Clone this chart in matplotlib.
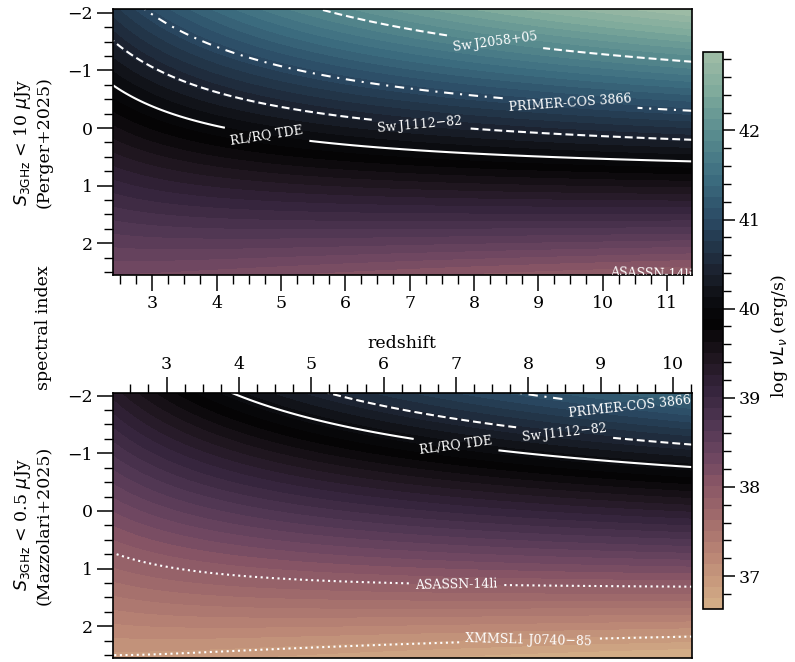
import numpy as np
import matplotlib
matplotlib.use("Agg")
import matplotlib.pyplot as plt
from matplotlib.colors import LinearSegmentedColormap, Normalize
from matplotlib.ticker import MultipleLocator

plt.rcParams['font.family'] = ['DejaVu Serif']
plt.rcParams['mathtext.fontset'] = 'dejavusans'

# ---------------- data ----------------
flux_limits_uJy = [10.0, 0.5]                   # 3 GHz flux limits of the two surveys
panel_refs = ["Perger+2025", "Mazzolari+2025"]
flux_limit_text = ["10", "0.5"]
obs_freq_GHz = 3.0
z_ranges = [(2.39, 11.39), (2.26, 10.26)]       # redshift ranges of the panels
alpha_ranges = [(-2.06, 2.55), (-2.05, 2.55)]   # spectral index ranges
cbar_range = (36.63, 42.88)                     # log nuL_nu colour range
n_bands = 50

source_names = ["Sw\u2009J2058+05", "PRIMER-COS 3866", "Sw\u2009J1112\u221282",
                "RL/RQ TDE", "ASASSN-14li", "XMMSL1 J0740\u221285"]
# log nuL_nu of each source contour
source_logL_top = [41.88, 40.95, 40.40, 39.99, 37.88, 36.97]
source_logL_bottom = [41.88, 41.04, 40.47, 40.06, 37.88, 36.97]

# cosmology (flat LCDM)
H0 = 70.0
Om = 0.3

# ---------------- style ----------------
source_styles = [(0, (3.8, 1.9)), (0, (4.5, 3.2, 1.0, 3.2)), (0, (3.8, 1.9)),
                 'solid', (0, (1.0, 1.7)), (0, (1.0, 1.7))]
label_positions = [
    {"Sw\u2009J2058+05": (8.3, -1.25), "PRIMER-COS 3866": (9.5, -0.5),
     "Sw\u2009J1112\u221282": (7.17, -0.15), "RL/RQ TDE": (4.78, 0.15),
     "ASASSN-14li": (10.75, 2.5)},
    {"PRIMER-COS 3866": (9.4, -1.85), "Sw\u2009J1112\u221282": (8.5, -1.4),
     "RL/RQ TDE": (7.0, -1.15), "ASASSN-14li": (7.0, 1.22),
     "XMMSL1 J0740\u221285": (8.0, 2.22)},
]

anchor_vals = [36.63, 36.9, 37.25, 37.62, 38.0, 38.37, 38.75, 39.1, 39.4, 39.8,
               40.0, 40.25, 40.45, 41.0, 41.5, 42.0, 42.45, 42.88]
anchor_cols = ['#d4af88', '#c99c7e', '#b98474', '#a26d6c', '#8a5766', '#6b4560',
               '#4c3450', '#33233a', '#231923', '#050405', '#08090b', '#14171e',
               '#1c2331', '#2a4a64', '#3d6e80', '#5b8e90', '#7faa9c', '#a0bda6']
vmin, vmax = cbar_range
cmap = LinearSegmentedColormap.from_list(
    "tde", [((v - vmin) / (vmax - vmin), c) for v, c in zip(anchor_vals, anchor_cols)])
norm = Normalize(vmin, vmax)
levels = np.linspace(vmin, vmax, n_bands + 1)

# ---------------- physics ----------------
c_kms = 299792.458
MPC_CM = 3.0857e24


def lum_dist_cm(z):
    zz = np.linspace(0, z.max(), 20001)
    inv_e = 1.0 / np.sqrt(Om * (1 + zz) ** 3 + (1 - Om))
    dc = np.concatenate([[0], np.cumsum(0.5 * (inv_e[1:] + inv_e[:-1]) * np.diff(zz))])
    dc = np.interp(z, zz, dc) * c_kms / H0
    return (1 + z) * dc * MPC_CM


def log_nuLnu(z, alpha, S_uJy):
    dl = lum_dist_cm(z)
    S = S_uJy * 1e-29
    nu = obs_freq_GHz * 1e9
    return np.log10(4 * np.pi * dl ** 2 * S * nu) - (1 + alpha) * np.log10(1 + z)


# ---------------- figure ----------------
W, H = 795, 662
fig = plt.figure(figsize=(W / 100, H / 100), dpi=100)


def rect(l, t, r, b):
    return [l / W, 1 - b / H, (r - l) / W, (b - t) / H]


axes = [fig.add_axes(rect(113, 9.3, 692, 275)), fig.add_axes(rect(113, 392.7, 692, 658))]
cax = fig.add_axes(rect(703, 52, 723, 609))

FS = 12.5
cf = None
for i, ax in enumerate(axes):
    z = np.linspace(*z_ranges[i], 400)
    a = np.linspace(*alpha_ranges[i], 400)
    Z, A = np.meshgrid(z, a)
    L = log_nuLnu(Z, A, flux_limits_uJy[i])
    Lc = np.clip(L, vmin + 1e-6, vmax - 1e-6)
    cf = ax.contourf(Z, A, Lc, levels=levels, cmap=cmap, norm=norm)
    logLs = source_logL_top if i == 0 else source_logL_bottom
    for name, lev, ls in zip(source_names, logLs, source_styles):
        if not (L.min() < lev < L.max()):
            continue
        cs = ax.contour(Z, A, L, levels=[lev], colors='white', linewidths=1.5,
                        linestyles=[ls])
        pos = label_positions[i].get(name)
        if pos is not None:
            ax.clabel(cs, fmt={lev: name}, manual=[pos], inline=True, fontsize=9,
                      inline_spacing=6)
    ax.set_xlim(*z_ranges[i])
    ax.set_ylim(alpha_ranges[i][1], alpha_ranges[i][0])
    ax.xaxis.set_major_locator(MultipleLocator(1))
    ax.xaxis.set_minor_locator(MultipleLocator(0.25))
    ax.yaxis.set_major_locator(MultipleLocator(1))
    ax.yaxis.set_minor_locator(MultipleLocator(0.25))
    ax.tick_params(which='major', length=11.5, width=1.1, labelsize=FS, pad=3)
    ax.tick_params(which='minor', length=6.5, width=1.0)
    for sp in ax.spines.values():
        sp.set_linewidth(1.2)

axes[1].xaxis.tick_top()
axes[1].xaxis.set_label_position('top')

# colorbar
cb = fig.colorbar(cf, cax=cax)
cb.set_ticks([37, 38, 39, 40, 41, 42])
cax.yaxis.set_minor_locator(MultipleLocator(0.2))
cax.tick_params(which='major', length=8.5, width=1.1, labelsize=FS, pad=3)
cax.tick_params(which='minor', length=6, width=1.0)
cb.outline.set_linewidth(1.2)

# labels
for i, yc in enumerate([142, 525]):
    fig.text(32 / W, 1 - yc / H,
             "$S_{\\rm 3GHz}$ < " + flux_limit_text[i] + " $\\mu$Jy\n(" + panel_refs[i] + ")",
             rotation=90, ha='center', va='center', fontsize=FS, multialignment='center')
fig.text(44 / W, 1 - 328 / H, "spectral index", rotation=90, ha='center', va='center',
         fontsize=FS)
fig.text(402 / W, 1 - 343 / H, "redshift", ha='center', va='center', fontsize=FS)
fig.text(779 / W, 1 - 336 / H, r"log $\nu L_\nu$ (erg/s)", rotation=90, ha='center',
         va='center', fontsize=FS)

fig.savefig("out.png", dpi=100)
